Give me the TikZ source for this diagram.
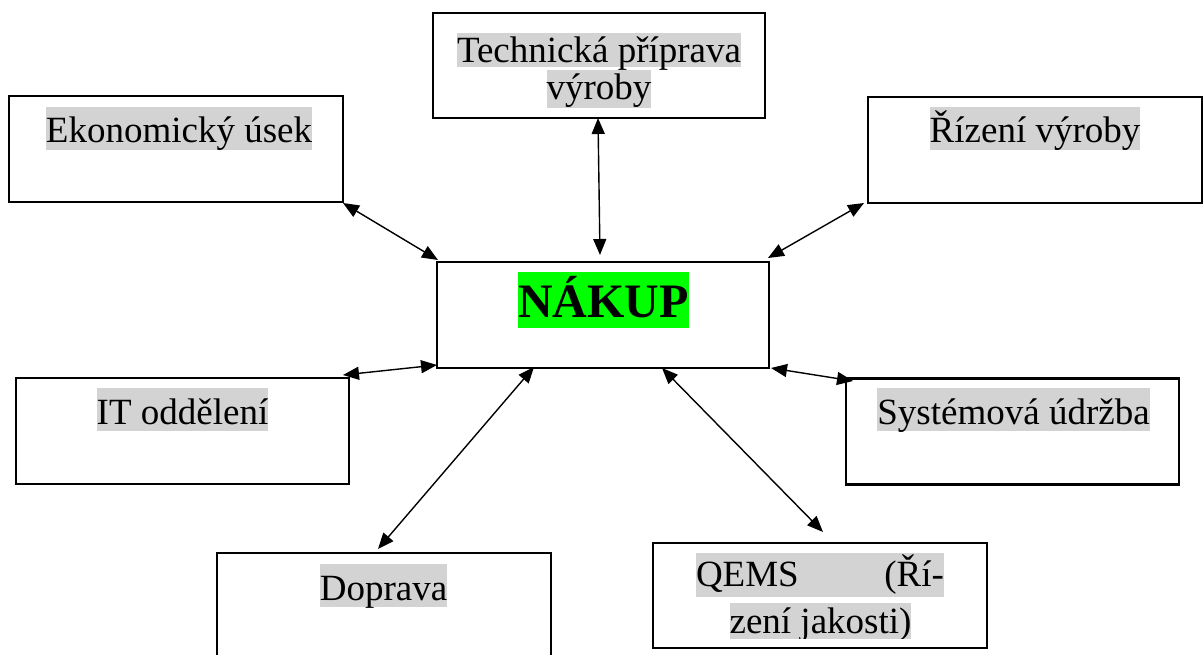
\documentclass[tikz,border=0pt]{standalone}
\usepackage{fontspec}
\setmainfont{Liberation Serif}
\usetikzlibrary{arrows.meta}
\definecolor{hl}{HTML}{D3D3D3}
\definecolor{hlgreen}{HTML}{00FF00}
\tikzset{
  box/.style={draw=black, line width=2.3pt, fill=none, minimum width=#1, minimum height=106pt, inner sep=0pt},
  lbl/.style={fill=hl, inner sep=0pt, anchor=base, text height=36pt, text depth=7pt, font=\fontsize{37}{37}\selectfont},
  link/.style={line width=1.4pt, {Triangle[length=16pt,width=13pt]}-{Triangle[length=16pt,width=13pt]}}
}
\begin{document}
\begin{tikzpicture}[x=1pt,y=-1pt]
\useasboundingbox (0,0) rectangle (1203,655);
% boxes
\node[box=332pt, minimum height=105pt] (tech) at (599,65.5) {};
\node[box=334pt] (ekon) at (176,149) {};
\node[box=334pt] (riz) at (1035,150) {};
\node[box=332pt] (nakup) at (603,315) {};
\node[box=333pt] (it) at (182.5,431) {};
\node[box=333pt] (sys) at (1012.5,431.5) {};
\node[box=334pt] (dop) at (384,606) {};
\node[box=334pt, minimum height=105pt] (qems) at (820,595.5) {};
% labels
\begin{scope}
\clip (433,0) rectangle (765,108);
\node[lbl, text height=30pt, text depth=4pt] (techa) at (599,63) {Technická příprava};
\node[lbl, text height=30pt, text depth=9pt] (techb) at (599,100) {výroby};
\end{scope}
\node[lbl] (ekonl) at (179,143) {Ekonomický úsek};
\node[lbl] (rizl) at (1035,143) {Řízení výroby};
\node[fill=hlgreen, inner sep=0pt, anchor=base, text height=46pt, text depth=10pt, font=\fontsize{48}{48}\selectfont\bfseries] (nakupl) at (603.5,318) {NÁKUP};
\node[lbl] (itl) at (182.5,424) {IT oddělení};
\node[lbl] (sysl) at (1013.5,424) {Systémová údržba};
\node[lbl] (dopl) at (383.5,600) {Doprava};
\node[lbl, text height=33pt, text depth=11pt] (qemsa) at (820,586) {\hbox to 248pt{QEMS\hfill(Ří-}};
\begin{scope}
\clip (653,540) rectangle (987,638);
\node[lbl, text height=30pt, text depth=8pt] (qemsb) at (820.5,633) {zení jakosti)};
\end{scope}
% arrow end points
\coordinate (e1) at (343,203);
\coordinate (n1) at (438,260);
\coordinate (t1) at (598,118);
\coordinate (n2) at (600,255);
\coordinate (r1) at (864,203);
\coordinate (n3) at (768,258);
\coordinate (i1) at (343,375);
\coordinate (n4) at (437,365);
\coordinate (s1) at (853,381);
\coordinate (n5) at (771,368);
\coordinate (d1) at (378,549);
\coordinate (n6) at (534,367);
\coordinate (q1) at (823,532);
\coordinate (n7) at (662,368);
% connectors
\draw[link] (e1) -- (n1);
\draw[link] (t1) -- (n2);
\draw[link] (r1) -- (n3);
\draw[link] (i1) -- (n4);
\draw[link] (s1) -- (n5);
\draw[link] (d1) -- (n6);
\draw[link] (q1) -- (n7);
\end{tikzpicture}
\end{document}
